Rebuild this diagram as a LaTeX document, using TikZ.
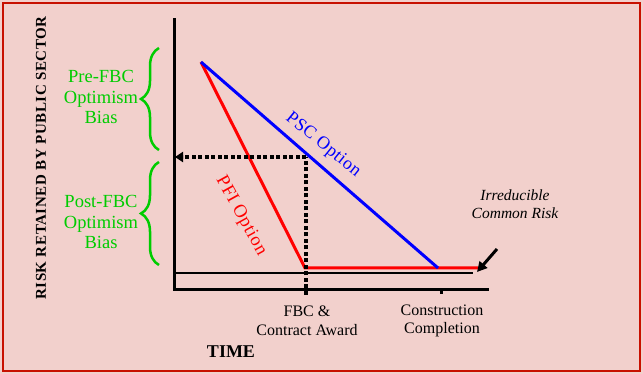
\documentclass[tikz,border=0pt]{standalone}
\usepackage{fontspec}
\setmainfont{Liberation Serif}
\usetikzlibrary{decorations.pathreplacing,arrows.meta}
\definecolor{bgpink}{RGB}{242,208,204}
\definecolor{framered}{RGB}{200,16,0}
\definecolor{biasgreen}{RGB}{0,204,0}
\begin{document}
\begin{tikzpicture}[x=1pt,y=-1pt,
  axisline/.style={line width=3pt, line cap=rect},
  dashline/.style={line width=3.8pt, dash pattern=on 4pt off 2.5pt},
  bracegreen/.style={biasgreen, line width=2.5pt, decorate, decoration={brace, amplitude=18pt}},
  greentext/.style={biasgreen, font=\fontsize{18.5}{20.5}\selectfont, align=center},
  ticklabel/.style={font=\fontsize{16}{18.5}\selectfont, align=center},
]
\useasboundingbox (0,0) rectangle (643,374);
\fill[bgpink] (0,0) rectangle (643,374);
\draw[framered, line width=2.5pt] (3,3) rectangle (640,371);

% coordinates
\coordinate (O) at (174,290);
\coordinate (Ytop) at (174,20);
\coordinate (Xend) at (487,290);
\coordinate (S) at (201,62);
\coordinate (F) at (305,268);
\coordinate (Rend) at (478,268);
\coordinate (C) at (438,268);
\coordinate (D) at (306,157);
\coordinate (Dbot) at (306,295);
\coordinate (Yhit) at (175,157);
\coordinate (Bstart) at (174,273);
\coordinate (Bend) at (473,273);
\coordinate (Ctick) at (441,290);
\coordinate (Ctickb) at (441,294);
\coordinate (Atail) at (497,249);
\coordinate (Ahead) at (477,272);

% baseline of irreducible risk
\draw[line width=2pt] (Bstart) -- (Bend);
% lines
\draw[red, line width=3pt] (S) -- (F) -- (Rend);
\draw[blue, line width=3pt] (S) -- (C);
% dashed
\draw[dashline] (Dbot) -- (D);
\draw[dashline, -{Triangle[length=8pt,width=10pt]}] (D) -- (Yhit);
% axes
\draw[axisline] (Ytop) -- (O) -- (Xend);
\draw[line width=3pt] (Ctick) -- (Ctickb);
% arrow for irreducible risk
\draw[line width=3pt, -{Triangle[length=10pt,width=10pt]}] (Atail) -- (Ahead);

% braces
\draw[bracegreen] (159,150) -- (159,48);
\draw[bracegreen] (159,265) -- (159,162);

% texts
\node[greentext] (pre) at (101,97) {Pre-FBC\\Optimism\\Bias};
\node[greentext] (post) at (101,222) {Post-FBC\\Optimism\\Bias};
\node[rotate=90, font=\bfseries\fontsize{15}{18}\selectfont\addfontfeatures{LetterSpace=4}] (ylab) at (41,158) {RISK RETAINED BY PUBLIC SECTOR};
\node[font=\bfseries\fontsize{18}{20}\selectfont] (time) at (231,352) {TIME};
\node[ticklabel] (fbc) at (307,321) {FBC \&\\Contract Award};
\node[ticklabel] (cc) at (442,321) {Construction\\Completion};
\node[font=\itshape\fontsize{15.5}{18}\selectfont, align=center] (irr) at (515,204) {Irreducible\\Common Risk};
\node[blue, rotate=-39, font=\fontsize{18}{20}\selectfont\addfontfeatures{LetterSpace=3}] (psc) at (323,145) {PSC Option};
\node[red, rotate=-61, font=\fontsize{18.5}{20}\selectfont\addfontfeatures{LetterSpace=3}] (pfi) at (241,216) {PFI Option};
\end{tikzpicture}
\end{document}
